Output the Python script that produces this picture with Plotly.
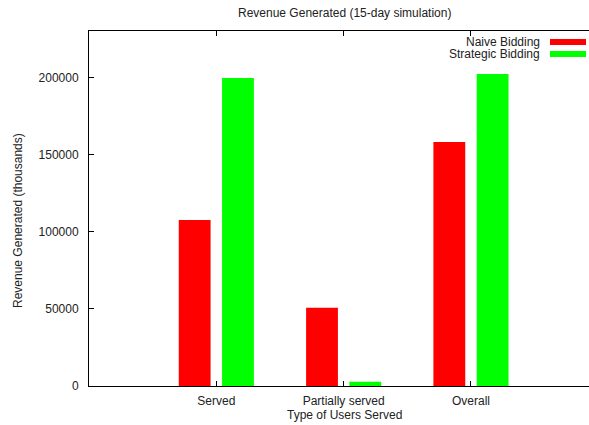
import plotly.graph_objects as go

categories = ["Served", "Partially served", "Overall"]
naive = [107600, 50700, 158100]
strategic = [199500, 2800, 202100]
series_names = ["Naive Bidding", "Strategic Bidding"]
series_colors = ["#ff0000", "#00ff00"]
y_ticks = [0, 50000, 100000, 150000, 200000]

W, H = 589, 425
L, R, T, B = 89, 0, 31, 39
PW, PH = W - L - R, H - T - B

def px(x):
    return (x - L) / PW

def py(y):
    return (H - B - y) / PH

FONT = "Liberation Sans, Arial, Helvetica, sans-serif"

fig = go.Figure()
offsets = [-0.295, 0.045]
for vals, name, col, off in zip([naive, strategic], series_names, series_colors, offsets):
    fig.add_trace(go.Bar(x=categories, y=vals, name=name, marker=dict(color=col, line=dict(width=0)),
                         width=0.25, offset=off, showlegend=False))

annotations = [
    dict(text="Revenue Generated (15-day simulation)", x=px(344), y=py(13), xref="paper", yref="paper",
         showarrow=False, xanchor="center", yanchor="middle", font=dict(size=12)),
    dict(text="Type of Users Served", x=px(344), y=py(415), xref="paper", yref="paper",
         showarrow=False, xanchor="center", yanchor="middle", font=dict(size=12)),
    dict(text="Revenue Generated (thousands)", x=px(18), y=py(221), xref="paper", yref="paper",
         showarrow=False, xanchor="center", yanchor="middle", textangle=-90, font=dict(size=12)),
]
shapes = []
leg_y = [42, 54]
for name, col, ly in zip(series_names, series_colors, leg_y):
    annotations.append(dict(text=name, x=px(542), y=py(ly), xref="paper", yref="paper", showarrow=False,
                            xanchor="right", yanchor="middle", font=dict(size=12)))
    shapes.append(dict(type="rect", xref="paper", yref="paper", x0=px(550), x1=px(586),
                       y0=py(ly + 3), y1=py(ly - 3), fillcolor=col, line=dict(width=0), layer="above"))

fig.update_layout(
    width=W, height=H,
    margin=dict(l=L, r=R, t=T, b=B, pad=0),
    paper_bgcolor="white", plot_bgcolor="white",
    font=dict(family=FONT, size=12, color="#222222"),
    barmode="overlay",
    showlegend=False,
    annotations=annotations,
    shapes=shapes,
    xaxis=dict(range=[-1, 2.927], showgrid=False, zeroline=False, showline=True, linecolor="black",
               linewidth=1, mirror="ticks", ticks="inside", ticklen=5, tickcolor="black", tickwidth=1,
               tickfont=dict(size=12), ticklabelstandoff=4),
    yaxis=dict(range=[0, 230000], showgrid=False, zeroline=False, showline=True, linecolor="black",
               linewidth=1, mirror=False, ticks="inside", ticklen=5, tickcolor="black", tickwidth=1,
               tickvals=y_ticks, ticktext=[str(v) for v in y_ticks], tickfont=dict(size=12),
               ticklabelstandoff=7),
)

fig.write_html("out.html", config={"displayModeBar": False},
               post_script="document.body.style.margin='0';document.body.style.overflow='hidden';")
